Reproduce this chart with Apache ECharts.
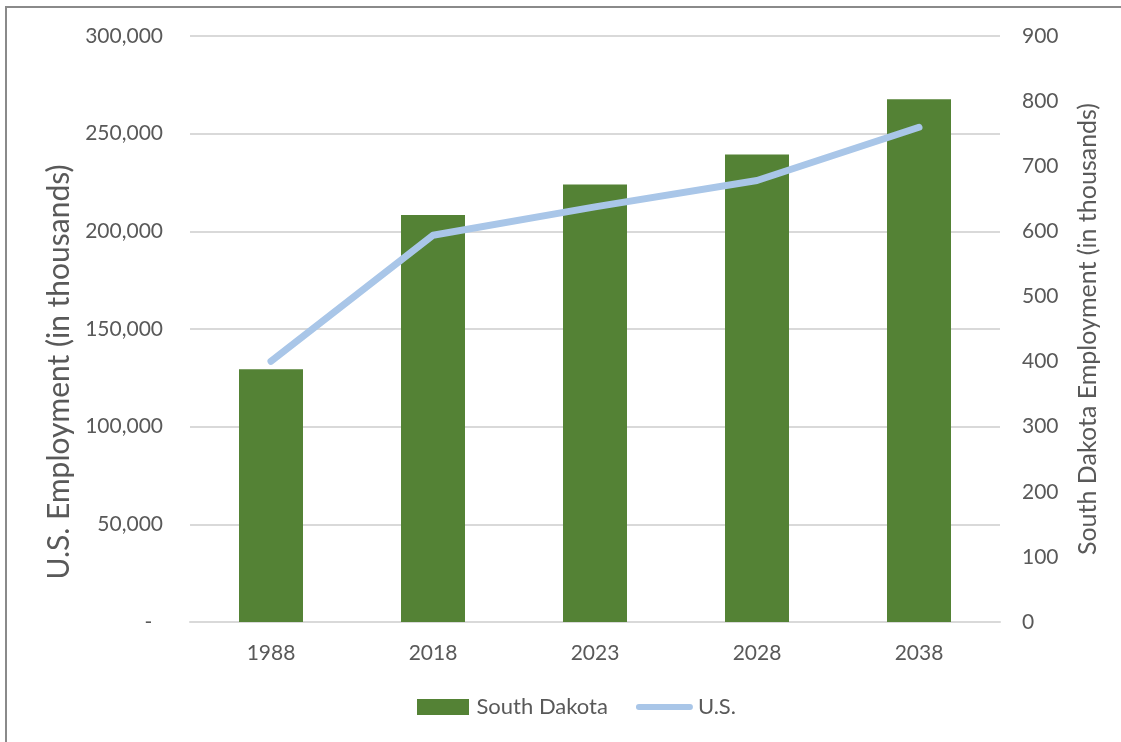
<!DOCTYPE html>
<html>
<head>
<meta charset="utf-8">
<script src="https://cdn.jsdelivr.net/npm/echarts@6/dist/echarts.min.js"></script>
<style>
html,body{margin:0;padding:0;background:#fff;}
#chart{width:1121px;height:742px;}
</style>
</head>
<body>
<div id="chart"></div>
<script>
const categories = ['1988', '2018', '2023', '2028', '2038'];
const southDakota = [388, 625, 672, 718, 803];
const us = [133500, 198000, 212500, 226000, 253300];
const leftTicks = { min: 0, max: 300000, interval: 50000 };
const rightTicks = { min: 0, max: 900, interval: 100 };

const textColor = '#595959';
const font = 'Lato, "Open Sans", sans-serif';
const lineIcon = 'path://M3,0 L54,0 A3,3 0 0 1 54,6 L3,6 A3,3 0 0 1 3,0 Z';

const chart = echarts.init(document.getElementById('chart'));
chart.setOption({
  animation: false,
  textStyle: { fontFamily: font },
  graphic: [{
    type: 'rect',
    shape: { x: 6, y: 7, width: 1130, height: 760 },
    style: { fill: 'none', stroke: '#8a8a8a', lineWidth: 2 },
    silent: true
  }],
  grid: { left: 190, right: 121, top: 36, bottom: 120 },
  legend: {
    bottom: 19,
    left: 412,
    itemGap: 28,
    itemWidth: 57,
    itemHeight: 16,
    textStyle: { color: textColor, fontSize: 22, fontFamily: font },
    data: [
      { name: 'South Dakota', icon: 'path://M0,0 L52,0 L52,16 L0,16 Z' },
      { name: 'U.S.', icon: lineIcon }
    ]
  },
  xAxis: {
    type: 'category',
    data: categories,
    axisLine: { show: true, lineStyle: { color: '#d9d9d9', width: 2 } },
    axisTick: { show: false },
    axisLabel: { color: textColor, fontSize: 21, margin: 21, fontFamily: font }
  },
  yAxis: [{
    type: 'value',
    min: leftTicks.min, max: leftTicks.max, interval: leftTicks.interval,
    name: 'U.S. Employment (in thousands)',
    nameLocation: 'middle',
    nameRotate: 90,
    nameGap: 115,
    nameTextStyle: { color: textColor, fontSize: 30, fontFamily: font, padding: [0, 86, 0, 0] },
    axisLine: { show: false },
    axisTick: { show: false },
    splitLine: { lineStyle: { color: '#d9d9d9', width: 2 } },
    axisLabel: {
      color: textColor, fontSize: 21, margin: 27, fontFamily: font,
      formatter: v => v === 0 ? '-  ' : v.toLocaleString('en-US')
    }
  }, {
    type: 'value',
    min: rightTicks.min, max: rightTicks.max, interval: rightTicks.interval,
    name: 'South Dakota Employment (in thousands)',
    nameLocation: 'middle',
    nameRotate: 90,
    nameGap: 75,
    nameTextStyle: { color: textColor, fontSize: 25, fontFamily: font },
    axisLine: { show: false },
    axisTick: { show: false },
    splitLine: { show: false },
    axisLabel: { color: textColor, fontSize: 21, margin: 22, fontFamily: font }
  }],
  series: [{
    name: 'South Dakota',
    type: 'bar',
    yAxisIndex: 1,
    data: southDakota,
    barWidth: 64,
    itemStyle: { color: '#548235' }
  }, {
    name: 'U.S.',
    type: 'line',
    yAxisIndex: 0,
    data: us,
    showSymbol: false,
    symbol: 'none',
    lineStyle: { color: '#A9C6E8', width: 7, cap: 'round', join: 'round' },
    itemStyle: { color: '#A9C6E8' }
  }]
});
</script>
</body>
</html>
